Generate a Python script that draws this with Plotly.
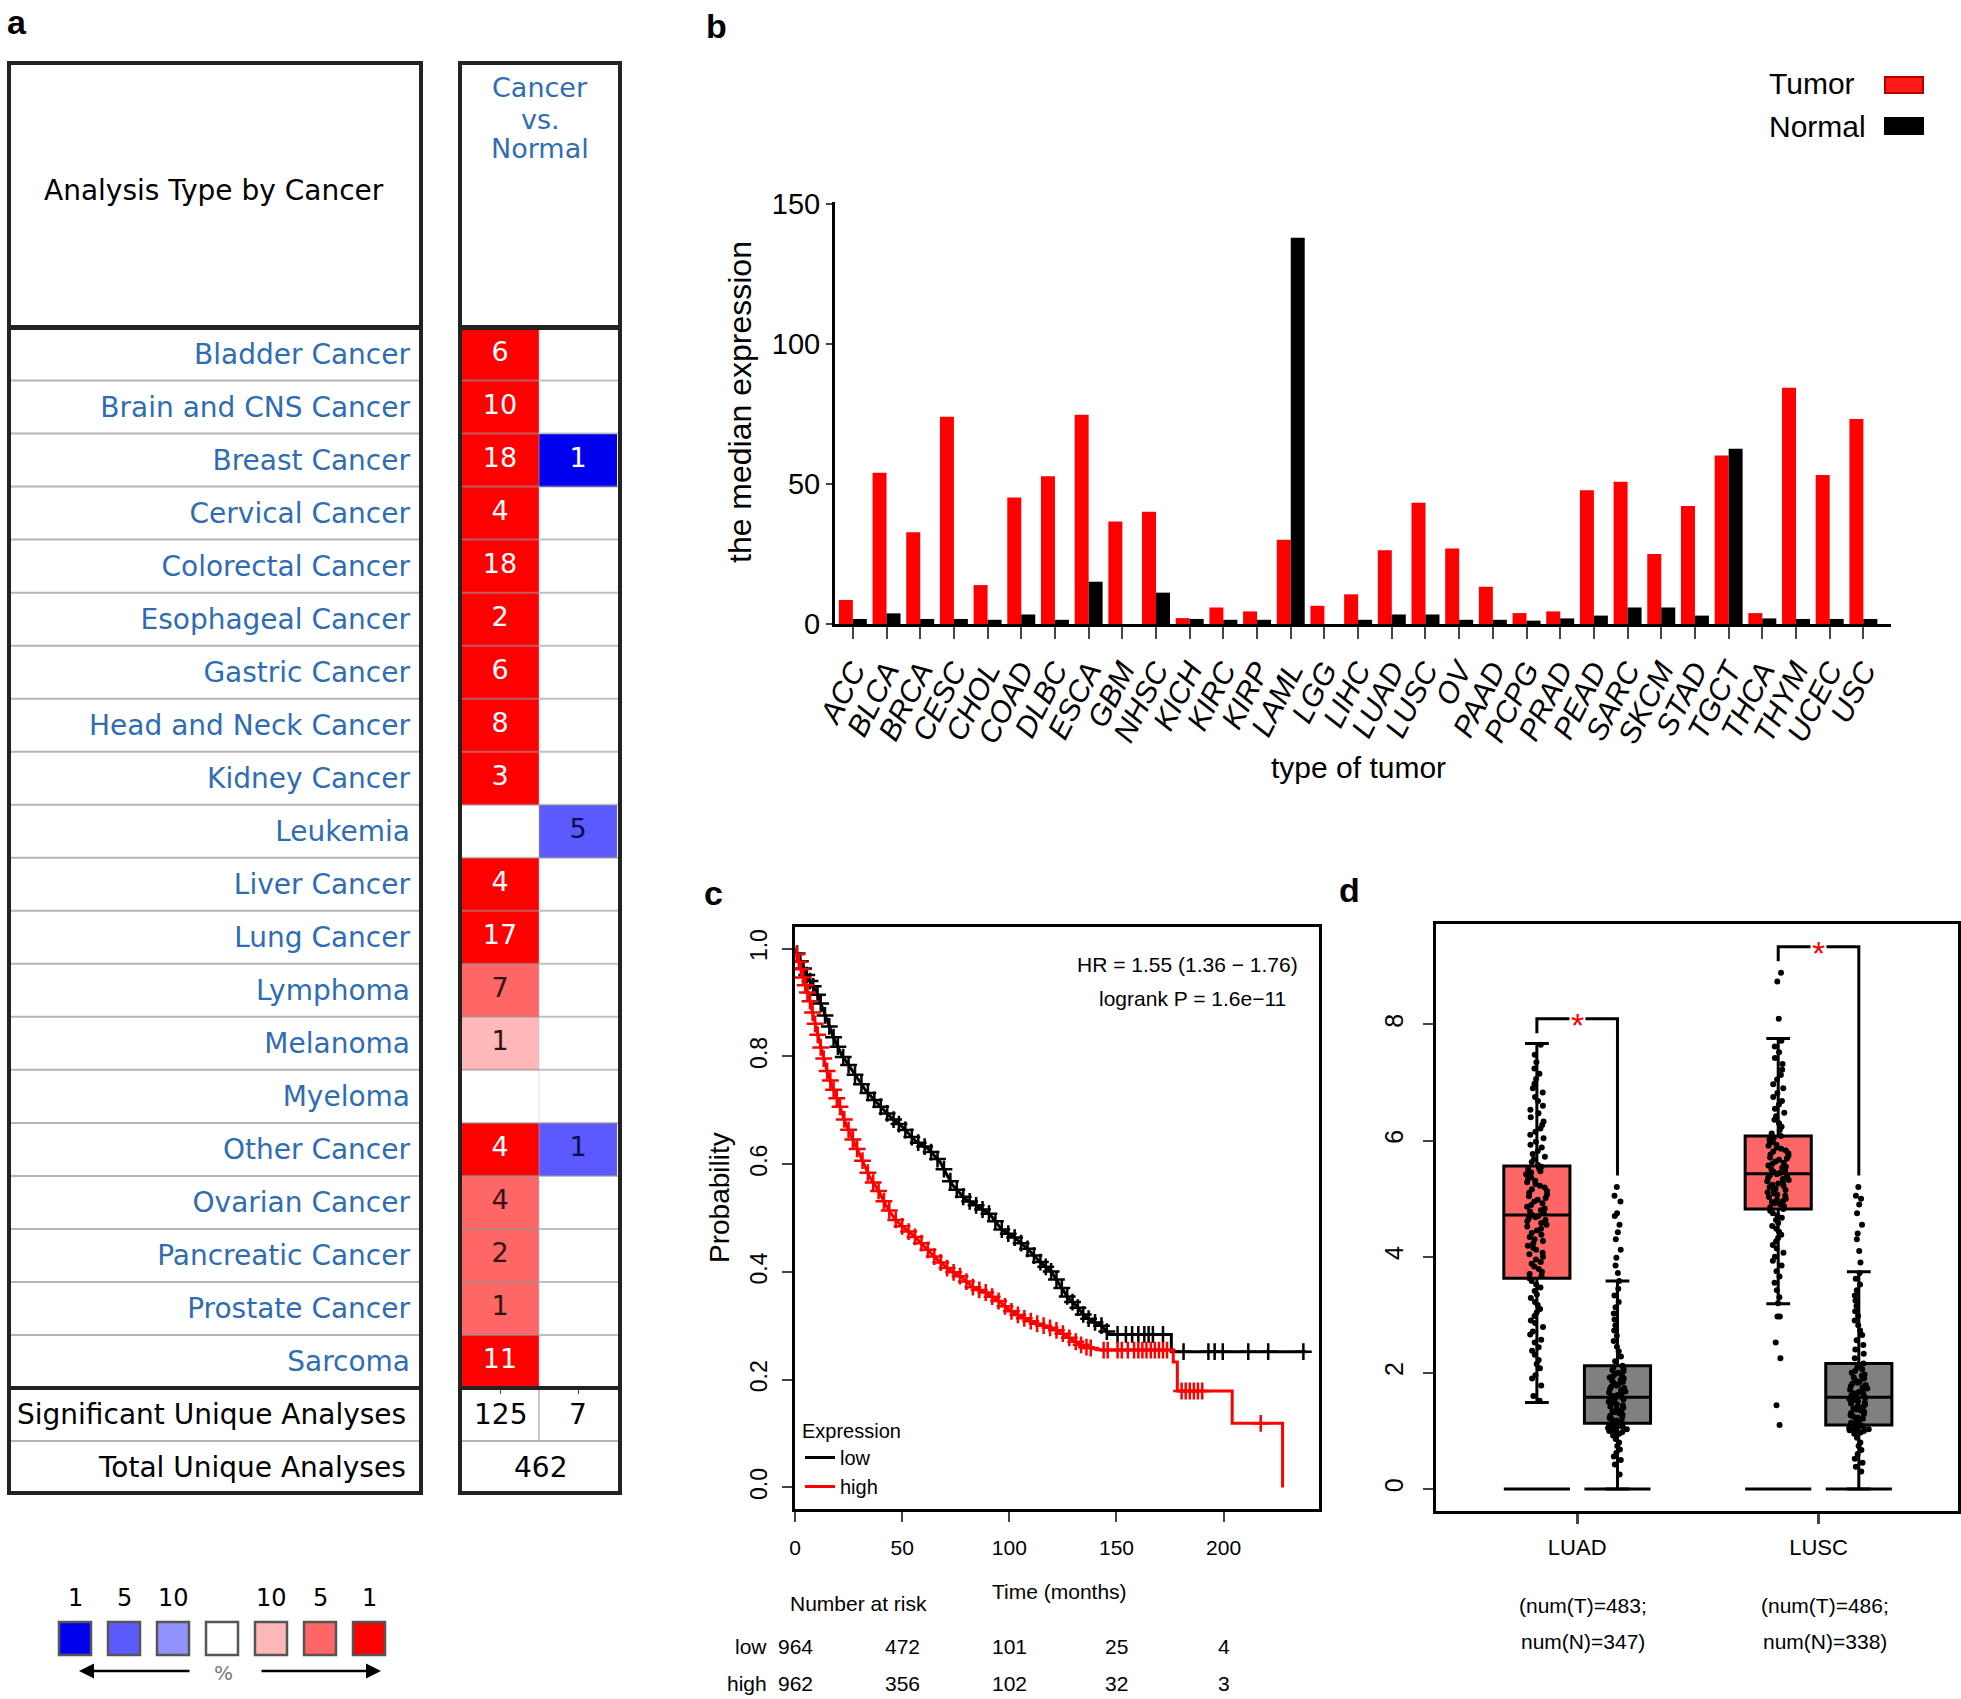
import plotly.graph_objects as go

W, H = 1961, 1699


def px(x):
    return x / W


def py(y):
    return 1 - y / H


ARIAL = "Liberation Sans, Arial, Helvetica, sans-serif"
LUCIDA = "DejaVu Sans, Verdana, sans-serif"
LINK_BLUE = "#2f6db3"

# ---------------- panel a data ----------------
cancer_types = ["Bladder Cancer", "Brain and CNS Cancer", "Breast Cancer", "Cervical Cancer",
                "Colorectal Cancer", "Esophageal Cancer", "Gastric Cancer", "Head and Neck Cancer",
                "Kidney Cancer", "Leukemia", "Liver Cancer", "Lung Cancer", "Lymphoma", "Melanoma",
                "Myeloma", "Other Cancer", "Ovarian Cancer", "Pancreatic Cancer", "Prostate Cancer",
                "Sarcoma"]
over_counts = [6, 10, 18, 4, 18, 2, 6, 8, 3, None, 4, 17, 7, 1, None, 4, 4, 2, 1, 11]
under_counts = [None, None, 1, None, None, None, None, None, None, 5, None, None, None, None,
                None, 1, None, None, None, None]
over_rank = [1, 1, 1, 1, 1, 1, 1, 1, 1, 0, 1, 1, 5, 10, 0, 1, 5, 5, 5, 1]
under_rank = [0, 0, 1, 0, 0, 0, 0, 0, 0, 5, 0, 0, 0, 0, 0, 5, 0, 0, 0, 0]
sig_unique = [125, 7]
total_unique = 462
gene_rank_labels = ["1", "5", "10", "", "10", "5", "1"]

# ---------------- panel b data ----------------
tumor_types = ["ACC", "BLCA", "BRCA", "CESC", "CHOL", "COAD", "DLBC", "ESCA", "GBM", "NHSC",
               "KICH", "KIRC", "KIRP", "LAML", "LGG", "LIHC", "LUAD", "LUSC", "OV", "PAAD",
               "PCPG", "PRAD", "PEAD", "SARC", "SKCM", "STAD", "TGCT", "THCA", "THYM", "UCEC", "USC"]
tumor_median = [8.6, 54.0, 32.8, 74.0, 13.9, 45.2, 52.8, 74.7, 36.6, 40.1, 2.1, 5.9, 4.5, 30.1,
                6.5, 10.6, 26.3, 43.3, 27.0, 13.3, 3.9, 4.5, 47.8, 50.8, 25.0, 42.1, 60.2, 3.9,
                84.4, 53.2, 73.2]
normal_median = [1.8, 3.8, 1.8, 1.8, 1.5, 3.4, 1.5, 15.1, 0.0, 11.2, 1.8, 1.5, 1.5, 137.9, 0.0,
                 1.5, 3.4, 3.4, 1.5, 1.5, 1.2, 2.0, 3.0, 5.9, 5.9, 3.0, 62.6, 2.0, 1.8, 1.8, 1.8]

# ---------------- panel c data ----------------
km_low_time = [0, 3.3, 6.2, 10.0, 13.9, 17.7, 21.6, 27.3, 33.1, 38.9, 44.7, 50.4, 56.2, 62.0,
               67.7, 73.5, 79.3, 85.1, 90.9, 96.6, 102.4, 108.2, 114.0, 119.7, 123.6, 127.4,
               131.3, 135.1, 139.0, 142.8, 146.7, 175.6, 175.6, 238.5]
km_low_surv = [1.0, 0.969, 0.945, 0.92, 0.877, 0.838, 0.804, 0.77, 0.736, 0.711, 0.687, 0.668,
               0.643, 0.629, 0.604, 0.561, 0.536, 0.522, 0.507, 0.478, 0.464, 0.444, 0.42, 0.40,
               0.376, 0.352, 0.337, 0.318, 0.308, 0.301, 0.284, 0.284, 0.252, 0.252]
km_high_time = [0, 2.3, 4.2, 7.1, 9.0, 11.9, 14.8, 17.7, 20.6, 23.5, 27.3, 31.2, 35.0, 38.9,
                42.7, 46.6, 50.4, 55.2, 60.1, 65.8, 71.6, 77.4, 83.2, 88.9, 94.7, 100.5, 106.3,
                112.0, 117.8, 123.6, 129.4, 135.1, 142.8, 176.5, 176.5, 178.4, 178.4, 204.0,
                204.0, 227.5, 227.5]
km_high_surv = [1.0, 0.969, 0.94, 0.901, 0.867, 0.818, 0.775, 0.741, 0.711, 0.677, 0.643, 0.609,
                0.575, 0.551, 0.522, 0.498, 0.483, 0.468, 0.449, 0.425, 0.405, 0.391, 0.371,
                0.362, 0.347, 0.328, 0.315, 0.305, 0.298, 0.289, 0.274, 0.261, 0.255, 0.255,
                0.233, 0.233, 0.179, 0.179, 0.119, 0.119, 0.0]
low_censor_time = [1.0, 2.5, 4.0, 5.5, 7.0, 8.5, 10.5, 12.0, 14.0, 16.0, 18.0, 20.0, 22.5, 25.0,
                   28.0, 31.0, 34.0, 37.0, 40.0, 43.0, 46.0, 48.5, 51.5, 54.5, 57.5, 60.5,
                   63.5, 66.5, 69.5, 72.5, 75.5, 78.5, 81.5, 84.5, 87.5, 90.5, 93.5, 96.5,
                   99.5, 102.5, 105.5, 108.5, 111.5, 114.5, 117.0, 119.5, 122.0, 124.5, 127.0,
                   129.5, 132.0, 134.5, 137.0, 140.0, 143.0, 145.5, 150.5, 154.4, 157.3, 160.2,
                   163.0, 165.0, 167.0, 171.7, 181.3, 192.9, 195.8, 199.6, 211.5, 220.8, 237.2]
high_censor_time = [0.8, 1.8, 2.8, 3.8, 4.8, 5.8, 7.0, 8.2, 9.4, 10.6, 12.0, 13.4, 15.0, 16.5,
                    18.0, 19.5, 21.0, 23.0, 25.0, 27.0, 29.0, 31.5, 34.0, 36.5, 39.0, 41.5,
                    44.0, 47.0, 50.0, 53.0, 56.0, 59.0, 62.0, 65.0, 68.0, 71.0, 74.0, 77.0,
                    80.0, 83.0, 86.0, 89.0, 92.0, 95.0, 98.0, 101.0, 104.0, 107.0, 110.0,
                    113.0, 116.0, 119.0, 122.0, 125.0, 128.0, 131.0, 133.5, 136.0, 138.0, 144.0,
                    145.9, 150.5, 152.5, 155.3, 158.2, 160.2, 162.1, 164.0, 166.0, 167.9, 169.8,
                    171.7, 173.6, 180.4, 182.3, 184.2, 186.1, 188.0, 190.0, 217.3]
risk_times = [0, 50, 100, 150, 200]
risk_low = [964, 472, 101, 25, 4]
risk_high = [962, 356, 102, 32, 3]
hr_text = "HR = 1.55 (1.36 \u2212 1.76)"
logrank_text = "logrank P = 1.6e\u221211"

# ---------------- panel d data ----------------
datasets = ["LUAD", "LUSC"]
n_tumor = [483, 486]
n_normal = [347, 338]
tumor_q1 = [3.63, 4.82]
tumor_med = [4.72, 5.43]
tumor_q3 = [5.56, 6.08]
tumor_lo = [1.49, 3.19]
tumor_hi = [7.67, 7.76]
normal_q1 = [1.13, 1.10]
normal_med = [1.58, 1.58]
normal_q3 = [2.12, 2.16]
normal_lo = [0.0, 0.0]
normal_hi = [3.58, 3.74]

luad_tumor = [1.52, 1.6, 1.78, 1.9, 1.96, 2.08, 2.15, 2.22, 2.31, 2.38,
              2.44, 2.52, 2.57, 2.66, 2.71, 2.79, 2.86, 2.9, 2.98, 3.04, 3.1, 3.17, 3.22, 3.29,
              3.35, 3.41, 3.47, 3.52, 3.58, 3.63,
              3.67, 3.7, 3.74, 3.79, 3.83, 3.88, 3.91, 3.95, 4.0, 4.04, 4.07, 4.12, 4.15, 4.19,
              4.23, 4.27, 4.3, 4.34, 4.38, 4.41, 4.45, 4.48, 4.52, 4.55, 4.58, 4.61, 4.63, 4.66,
              4.68, 4.7,
              4.72, 4.75, 4.78, 4.8, 4.83, 4.86, 4.89, 4.92, 4.95, 4.98, 5.01, 5.04, 5.07, 5.1,
              5.13, 5.16, 5.19, 5.22, 5.25, 5.28, 5.31, 5.34, 5.37, 5.4, 5.42, 5.45, 5.47, 5.5,
              5.52, 5.55,
              5.58, 5.63, 5.68, 5.72, 5.77, 5.82, 5.88, 5.93, 5.98, 6.04, 6.1, 6.15, 6.21, 6.27,
              6.33, 6.4, 6.47, 6.53, 6.6, 6.68, 6.75, 6.83, 6.9, 6.98, 7.06, 7.15, 7.24, 7.35,
              7.48, 7.65]
luad_normal = [0.25, 0.42, 0.5, 0.56, 0.62, 0.68, 0.74, 0.8, 0.86, 0.92,
               0.95, 0.97, 0.98, 1.0, 1.02, 1.03, 1.04, 1.05, 1.06, 1.07, 1.08, 1.09, 1.1, 1.11,
               1.12,
               1.14, 1.16, 1.18, 1.2, 1.22, 1.24, 1.26, 1.28, 1.3, 1.32, 1.34, 1.36, 1.38, 1.4,
               1.42, 1.44, 1.46, 1.48, 1.5, 1.52, 1.54, 1.56, 1.57, 1.58, 1.6,
               1.62, 1.64, 1.66, 1.68, 1.7, 1.72, 1.74, 1.76, 1.78, 1.8, 1.82, 1.84, 1.86, 1.88,
               1.9, 1.92, 1.94, 1.96, 1.98, 2.0, 2.03, 2.05, 2.07, 2.09, 2.12,
               2.2, 2.28, 2.37, 2.45, 2.55, 2.64, 2.73, 2.82, 2.92, 3.02, 3.13, 3.22, 3.33,
               3.45, 3.58,
               3.72, 3.85, 3.98, 4.12, 4.3, 4.42, 4.55, 4.7, 4.75, 4.95, 5.05, 5.2]
lusc_tumor = [1.1, 1.44, 2.25, 2.52, 2.97, 2.97, 8.1, 8.74, 8.89,
              3.2, 3.3, 3.42, 3.55, 3.66, 3.75, 3.85, 3.93, 4.0, 4.07, 4.14, 4.2, 4.26, 4.32,
              4.38, 4.43, 4.48, 4.53, 4.58, 4.63, 4.67, 4.71, 4.75, 4.79, 4.82,
              4.85, 4.87, 4.9, 4.92, 4.94, 4.96, 4.98, 5.0, 5.03, 5.05, 5.07, 5.09, 5.11, 5.13,
              5.15, 5.17, 5.2, 5.22, 5.24, 5.26, 5.28, 5.3, 5.32, 5.34, 5.36, 5.38, 5.4, 5.42,
              5.44, 5.46, 5.48, 5.5, 5.53, 5.55, 5.57, 5.6, 5.62, 5.64, 5.67, 5.69, 5.71, 5.74,
              5.76, 5.78, 5.81, 5.83, 5.86, 5.88, 5.91, 5.93, 5.96, 5.98, 6.0, 6.02, 6.05, 6.08,
              6.12, 6.18, 6.24, 6.3, 6.36, 6.42, 6.48, 6.55, 6.62, 6.68, 6.75, 6.82, 6.9, 6.97,
              7.05, 7.13, 7.22, 7.32, 7.42, 7.52, 7.62, 7.72]
lusc_normal = [0.3, 0.38, 0.45, 0.52, 0.6, 0.67, 0.74, 0.8, 0.88, 0.95,
               0.97, 0.99, 1.0, 1.01, 1.02, 1.03, 1.04, 1.05, 1.06, 1.07, 1.08, 1.1,
               1.12, 1.14, 1.16, 1.19, 1.21, 1.23, 1.25, 1.27, 1.29, 1.31, 1.33, 1.35, 1.37,
               1.39, 1.41, 1.43, 1.45, 1.47, 1.49, 1.51, 1.53, 1.55, 1.56, 1.57, 1.58,
               1.61, 1.63, 1.65, 1.67, 1.69, 1.71, 1.73, 1.75, 1.77, 1.79, 1.81, 1.83, 1.85,
               1.87, 1.9, 1.92, 1.95, 1.97, 2.0, 2.03, 2.06, 2.09, 2.12, 2.16,
               2.25, 2.33, 2.4, 2.48, 2.56, 2.65, 2.73, 2.82, 2.9, 2.98, 3.06, 3.15, 3.24, 3.33,
               3.42, 3.52, 3.62, 3.72,
               3.9, 4.1, 4.3, 4.4, 4.55, 4.75, 4.9, 5.0, 5.05, 5.2]
tumor_points = [luad_tumor, lusc_tumor]
normal_points = [luad_normal, lusc_normal]

# ---------------- styling constants ----------------
PALETTE = ["#0000f0", "#5a5aff", "#9292ff", "#ffffff", "#ffb8b8", "#ff6666", "#ff0000"]
UNDER_IDX = {1: 0, 5: 1, 10: 2, 0: 3}
OVER_IDX = {0: 3, 10: 4, 5: 5, 1: 6}

fig = go.Figure()
annotations = []
shapes = []


def ann(text, x, y, size, family=ARIAL, color="black", xanchor="center", yanchor="middle",
        xref="paper", yref="paper", **kw):
    annotations.append(dict(text=text, x=x, y=y, xref=xref, yref=yref, showarrow=False,
                            xanchor=xanchor, yanchor=yanchor,
                            font=dict(size=size, family=family, color=color), **kw))


def rect(x0, y0, x1, y1, line_color="black", width=4, fill=None):
    shapes.append(dict(type="rect", xref="paper", yref="paper", x0=px(x0), x1=px(x1),
                       y0=py(y0), y1=py(y1), line=dict(color=line_color, width=width),
                       fillcolor=fill if fill else "rgba(0,0,0,0)"))


def hline(x0, x1, y, color, width):
    shapes.append(dict(type="line", xref="paper", yref="paper", x0=px(x0), x1=px(x1),
                       y0=py(y), y1=py(y), line=dict(color=color, width=width)))


def vline(x, y0, y1, color, width):
    shapes.append(dict(type="line", xref="paper", yref="paper", x0=px(x), x1=px(x),
                       y0=py(y0), y1=py(y1), line=dict(color=color, width=width)))


# ================= panel a =================
z = [[OVER_IDX[o], UNDER_IDX[u]] for o, u in zip(over_rank, under_rank)]
cs = []
for k, c in enumerate(PALETTE):
    cs += [[k / 7, c], [(k + 1) / 7, c]]
fig.add_trace(go.Heatmap(x=["up", "down"], y=cancer_types, z=z, colorscale=cs, zmin=-0.5,
                         zmax=6.5, showscale=False, xaxis="x", yaxis="y", hoverinfo="skip"))
tx, ty, tt, tc = [], [], [], []
for i, name in enumerate(cancer_types):
    if over_counts[i] is not None:
        tx.append("up"); ty.append(name); tt.append(str(over_counts[i]))
        tc.append("white" if over_rank[i] == 1 else "#301414")
    if under_counts[i] is not None:
        tx.append("down"); ty.append(name); tt.append(str(under_counts[i]))
        tc.append("white" if under_rank[i] == 1 else "#0c0c50")
fig.add_trace(go.Scatter(x=tx, y=ty, text=tt, mode="text", xaxis="x", yaxis="y",
                         textfont=dict(family=LUCIDA, size=27, color=tc), showlegend=False,
                         hoverinfo="skip"))

ROW_TOP, ROW_BOT = 327.5, 1388
ROW_H = (ROW_BOT - ROW_TOP) / len(cancer_types)
LBOX = (9, 421)
RBOX = (460, 620)
COL_MID = 539
for i in range(1, len(cancer_types)):
    yy = ROW_TOP + i * ROW_H
    hline(LBOX[0], LBOX[1], yy, "#b4b4b4", 2)
    hline(RBOX[0], RBOX[1], yy, "rgba(150,150,150,0.6)", 2)
vline(COL_MID, ROW_TOP, ROW_BOT, "rgba(190,190,190,0.5)", 1)
vline(COL_MID, ROW_BOT, ROW_BOT + 53, "#c8c8c8", 2)
hline(LBOX[0], LBOX[1], ROW_BOT + 53, "#b4b4b4", 2)
hline(RBOX[0], RBOX[1], ROW_BOT + 53, "#b4b4b4", 2)
for b in (LBOX, RBOX):
    rect(b[0], 63, b[1], 1493, "#222", 4)
    hline(b[0], b[1], ROW_TOP, "#222", 5)
    hline(b[0], b[1], ROW_BOT, "#222", 4)

ann("Analysis Type by Cancer", px(214), py(190), 28, LUCIDA)
for txt, yy in zip(["Cancer", "vs.", "Normal"], [88, 119, 148]):
    ann(txt, px(COL_MID + 1), py(yy), 27, LUCIDA, LINK_BLUE)
ann("Significant Unique Analyses", px(408), py(ROW_BOT + 26), 28, LUCIDA, xanchor="right")
ann("Total Unique Analyses", px(408), py(ROW_BOT + 79), 28, LUCIDA, xanchor="right")
ann(str(sig_unique[0]), px(500), py(ROW_BOT + 26), 28, LUCIDA)
ann(str(sig_unique[1]), px(578), py(ROW_BOT + 26), 28, LUCIDA)
ann(str(total_unique), px(540), py(ROW_BOT + 79), 28, LUCIDA)

for k, (lab, col) in enumerate(zip(gene_rank_labels, PALETTE)):
    cx = 75 + k * 49
    rect(cx - 16, 1622, cx + 16, 1655, "#555", 2.5, col)
    if lab:
        ann(lab, px(cx), py(1598), 24, LUCIDA)
annotations.append(dict(x=px(79), y=py(1671), xref="paper", yref="paper", ax=112, ay=0,
                        text="", showarrow=True, arrowhead=2, arrowsize=1.2, arrowwidth=2.5,
                        arrowcolor="black"))
annotations.append(dict(x=px(381), y=py(1671), xref="paper", yref="paper", ax=-121, ay=0,
                        text="", showarrow=True, arrowhead=2, arrowsize=1.2, arrowwidth=2.5,
                        arrowcolor="black"))
ann("%", px(223), py(1673), 20, LUCIDA, "#777")

# ================= panel b =================
fig.add_trace(go.Bar(x=tumor_types, y=tumor_median, marker=dict(color="#ff0000", line_width=0),
                     xaxis="x2", yaxis="y2", offsetgroup="tumor", showlegend=False))
fig.add_trace(go.Bar(x=tumor_types, y=normal_median, marker=dict(color="#000000", line_width=0),
                     xaxis="x2", yaxis="y2", offsetgroup="normal", showlegend=False))
ann("the median expression", px(740), py(402), 32, textangle=-90)
ann("type of tumor", px(1358), py(767), 30)
ann("Tumor", px(1767), py(84), 30, xanchor="left")
ann("Normal", px(1767), py(126), 30, xanchor="left")
rect(1885, 77, 1923, 93, "#b00000", 2, "#ff1a1a")
rect(1885, 118, 1923, 134, "#000", 2, "#000")

# ================= panel c =================
def surv_at(t, times, surv):
    # value of the curve drawn through the listed points at time t
    for j in range(1, len(times)):
        if times[j - 1] <= t <= times[j]:
            if times[j] == times[j - 1]:
                return surv[j]
            f = (t - times[j - 1]) / (times[j] - times[j - 1])
            return surv[j - 1] + f * (surv[j] - surv[j - 1])
    return surv[-1]


fig.add_trace(go.Scatter(x=km_low_time, y=km_low_surv, mode="lines",
                         line=dict(color="black", width=3), name="low",
                         xaxis="x3", yaxis="y3"))
fig.add_trace(go.Scatter(x=km_high_time, y=km_high_surv, mode="lines",
                         line=dict(color="#ff0000", width=3), name="high",
                         xaxis="x3", yaxis="y3"))
for times, surv, cens, col in [(km_low_time, km_low_surv, low_censor_time, "black"),
                               (km_high_time, km_high_surv, high_censor_time, "#ff0000")]:
    cy = [surv_at(t, times, surv) for t in cens]
    fig.add_trace(go.Scatter(x=cens, y=cy, mode="markers", showlegend=False,
                             marker=dict(symbol="cross-thin", size=12,
                                         line=dict(color=col, width=2.5)),
                             xaxis="x3", yaxis="y3", hoverinfo="skip"))

ann(hr_text, px(1300), py(964), 21, xanchor="right")
ann(logrank_text, px(1288), py(998), 21, xanchor="right")
ann("Probability", px(719), py(1198), 28, textangle=-90)
ann("Time (months)", px(1059), py(1591), 21)
ann("Number at risk", px(858), py(1603), 21)
ann("low", px(769), py(1646), 21, xanchor="right")
ann("high", px(769), py(1683), 21, xanchor="right")
for t, lo, hi in zip(risk_times, risk_low, risk_high):
    ann(str(lo), t, py(1646), 21, xref="x3")
    ann(str(hi), t, py(1683), 21, xref="x3")

# ================= panel d =================
OFF = 0.167
BOXW = 0.274
bx, by = [], []
for k, name in enumerate(datasets):
    c = k + 1
    tpos, npos = c - OFF, c + OFF
    fig.add_trace(go.Box(x=[tpos], q1=[tumor_q1[k]], median=[tumor_med[k]], q3=[tumor_q3[k]],
                         lowerfence=[tumor_lo[k]], upperfence=[tumor_hi[k]], orientation="v",
                         width=BOXW, fillcolor="#ff6666", line=dict(color="black", width=3),
                         whiskerwidth=0.36, boxpoints=False, xaxis="x4", yaxis="y4",
                         showlegend=False, hoverinfo="skip"))
    fig.add_trace(go.Box(x=[npos], q1=[normal_q1[k]], median=[normal_med[k]], q3=[normal_q3[k]],
                         lowerfence=[normal_lo[k]], upperfence=[normal_hi[k]], orientation="v",
                         width=BOXW, fillcolor="#808080", line=dict(color="black", width=3),
                         whiskerwidth=0.36, boxpoints=False, xaxis="x4", yaxis="y4",
                         showlegend=False, hoverinfo="skip"))
    for pts, pos in [(tumor_points[k], tpos), (normal_points[k], npos)]:
        fig.add_trace(go.Box(y=pts, x0=pos, boxpoints="all", jitter=0.34, pointpos=0,
                             width=BOXW, fillcolor="rgba(0,0,0,0)",
                             line=dict(color="rgba(0,0,0,0)", width=0), whiskerwidth=0,
                             marker=dict(color="black", size=6), xaxis="x4", yaxis="y4",
                             showlegend=False, hoverinfo="skip"))
        bx += [pos - BOXW / 2, pos + BOXW / 2, None]
        by += [0, 0, None]
    left_bot = max(tumor_points[k]) + 0.2
    top = left_bot + 0.25
    right_bot = max(normal_points[k]) + 0.2
    fig.add_trace(go.Scatter(x=[tpos, tpos, npos, npos], y=[left_bot, top, top, right_bot],
                             mode="lines", line=dict(color="black", width=3), xaxis="x4",
                             yaxis="y4", showlegend=False, hoverinfo="skip"))
    annotations.append(dict(text="*", x=c, y=top, xref="x4", yref="y4", showarrow=False,
                            bgcolor="white", borderpad=1, yshift=-6,
                            font=dict(size=34, family=ARIAL, color="#ff0000")))
    ann("(num(T)=%d;" % n_tumor[k], c, py(1605), 21, xref="x4", xshift=6)
    ann("num(N)=%d)" % n_normal[k], c, py(1641), 21, xref="x4", xshift=6)
fig.add_trace(go.Scatter(x=bx, y=by, mode="lines", line=dict(color="black", width=3),
                         xaxis="x4", yaxis="y4", showlegend=False, hoverinfo="skip"))

# panel letters
for letter, x, y in [("a", 17, 22), ("b", 716, 26), ("c", 713, 893), ("d", 1349, 890)]:
    ann("<b>%s</b>" % letter, px(x), py(y), 34)

# ================= layout =================
noax = dict(showgrid=False, zeroline=False)
fig.update_layout(
    width=W, height=H, margin=dict(l=0, r=0, t=0, b=0), template="none",
    paper_bgcolor="white", plot_bgcolor="rgba(0,0,0,0)",
    font=dict(family=ARIAL, color="black"),
    barmode="group", bargap=0.17, bargroupgap=0.0, boxmode="overlay",
    xaxis=dict(domain=[px(RBOX[0] + 1), px(RBOX[1] - 3)], range=[-0.5, 1.5],
               showticklabels=False, anchor="y", **noax),
    yaxis=dict(domain=[py(ROW_BOT), py(ROW_TOP)], range=[len(cancer_types) - 0.5, -0.5],
               tickmode="array", tickvals=cancer_types, ticktext=cancer_types, ticks="",
               tickfont=dict(family=LUCIDA, size=28, color=LINK_BLUE),
               ticklabelstandoff=50, anchor="x", **noax),
    xaxis2=dict(domain=[px(835), px(1891)], range=[-0.53, 30.82], anchor="y2",
                tickmode="array", tickvals=tumor_types, ticktext=tumor_types,
                tickangle=-63, tickfont=dict(size=30, style="italic"), ticks="outside",
                ticklen=12, tickwidth=2, showline=True, linewidth=3, linecolor="black",
                ticklabelstandoff=2, **noax),
    yaxis2=dict(domain=[py(624), py(202)], range=[0, 150.7], anchor="x2",
                tickvals=[0, 50, 100, 150], tickfont=dict(size=29), ticks="outside",
                ticklen=6, tickwidth=2, showline=True, linewidth=3, linecolor="black",
                **noax),
    xaxis3=dict(domain=[px(795), px(1319)], range=[0, 244.5], anchor="y3",
                tickvals=risk_times, tickfont=dict(size=21), ticks="outside", ticklen=10,
                tickwidth=2, showline=True, mirror=True, linewidth=3, linecolor="black",
                ticklabelstandoff=8, **noax),
    yaxis3=dict(domain=[py(1509), py(927)], range=[-0.04, 1.04], anchor="x3",
                tickvals=[0, 0.2, 0.4, 0.6, 0.8, 1.0], tickformat=".1f", tickangle=-90,
                tickfont=dict(size=23), ticks="outside", ticklen=10, tickwidth=2,
                showline=True, mirror=True, linewidth=3, linecolor="black",
                ticklabelstandoff=6, **noax),
    xaxis4=dict(domain=[px(1436), px(1958)], range=[0.415, 2.578], anchor="y4",
                tickvals=[1, 2], ticktext=datasets, tickfont=dict(size=22), ticks="outside",
                ticklen=10, tickwidth=3, showline=True, mirror=True, linewidth=3,
                linecolor="black", ticklabelstandoff=5, **noax),
    yaxis4=dict(domain=[py(1511), py(924)], range=[-0.38, 9.73], anchor="x4",
                tickvals=[0, 2, 4, 6, 8], tickangle=-90, tickfont=dict(size=25),
                ticks="outside", ticklen=10, tickwidth=2, showline=True, mirror=True,
                linewidth=3, linecolor="black", ticklabelstandoff=10, **noax),
    legend=dict(x=px(800), y=py(1412), xanchor="left", yanchor="top",
                bgcolor="rgba(0,0,0,0)", font=dict(size=20),
                title=dict(text="Expression", font=dict(size=20)), tracegroupgap=0,
                itemwidth=30),
    annotations=annotations, shapes=shapes,
)

fig.write_html("out.html", post_script="document.body.style.margin='0';",
               config={"displayModeBar": False})
